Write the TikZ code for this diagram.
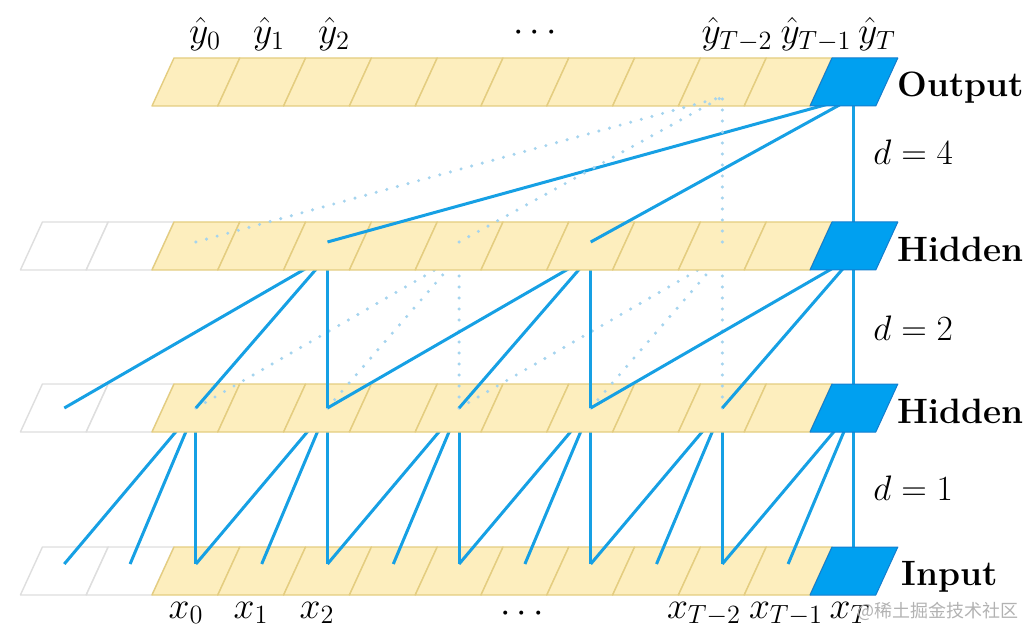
\documentclass[tikz,border=0pt]{standalone}
\usepackage{fix-cm}
\usepackage{fontspec}
\newfontfamily\cjkwm{Noto Sans CJK SC}
\definecolor{cellfill}{RGB}{253,238,190}
\definecolor{cellborder}{RGB}{228,205,128}
\definecolor{bluefill}{RGB}{0,160,240}
\definecolor{blueborder}{RGB}{20,125,205}
\definecolor{conncol}{RGB}{22,160,228}
\definecolor{dotcol}{RGB}{165,212,238}
\definecolor{whiteborder}{RGB}{222,222,222}
\tikzset{
  cellY/.style={fill=cellfill, draw=cellborder, line width=0.7pt, line join=round},
  cellW/.style={fill=white, draw=whiteborder, line width=0.7pt, line join=round},
  cellB/.style={fill=bluefill, draw=blueborder, line width=0.5pt, line join=round},
  conn/.style={draw=conncol, line width=1.5pt},
  ghost/.style={draw=dotcol, line width=1.7pt, line cap=round, dash pattern=on 0pt off 5.5pt},
  lab/.style={font=\fontsize{18.8}{22}\selectfont, inner sep=0pt, anchor=base},
  layer/.style={font=\fontsize{17.6}{21}\selectfont\bfseries, inner sep=0pt, anchor=base west},
  dlab/.style={font=\fontsize{17.7}{21}\selectfont, inner sep=0pt, anchor=base west},
}
% one row of cells: #1 = top y, #2 = first index (the blue cell 10 is drawn last)
\newcommand\cellrow[2]{%
  \foreach \i in {#2,...,9}{%
    \ifnum\i<0
      \path[cellW] ({152+65.8*\i},{#1+48}) -- ({152+65.8*(\i+1)},{#1+48}) -- ({174+65.8*(\i+1)},#1) -- ({174+65.8*\i},#1) -- cycle;
    \else
      \path[cellY] ({152+65.8*\i},{#1+48}) -- ({152+65.8*(\i+1)},{#1+48}) -- ({174+65.8*(\i+1)},#1) -- ({174+65.8*\i},#1) -- cycle;
    \fi
  }%
}
\newcommand\bluecell[1]{%
  \path[cellB] ({152+65.8*10},{#1+48}) -- ({152+65.8*11},{#1+48}) -- ({174+65.8*11},#1) -- ({174+65.8*10},#1) -- cycle;
}
\begin{document}
\begin{tikzpicture}[x=0.5pt,y=-0.5pt]
\useasboundingbox (0,0) rectangle (1036,641);
% node points
\foreach \i in {-2,...,10}{
  \coordinate (in-\i) at ({195.9+65.8*\i},564);
  \coordinate (ha-\i) at ({195.9+65.8*\i},408);
  \coordinate (hb-\i) at ({195.9+65.8*\i},242);
  \coordinate (hbt-\i) at ({195.9+65.8*\i},256);
  \coordinate (out-\i) at ({195.9+65.8*\i},97);
}
% input row
\cellrow{547}{-2}
% d = 1 connections
\foreach \j in {0,2,4,6,8,10}{
  \pgfmathtruncatemacro\ja{\j-2}
  \pgfmathtruncatemacro\jb{\j-1}
  \draw[conn] (in-\ja) -- (ha-\j);
  \draw[conn] (in-\jb) -- (ha-\j);
  \draw[conn] (in-\j) -- (ha-\j);
}
% lower hidden row
\cellrow{384}{-2}
% d = 2 connections
\foreach \j in {4,8}{
  \pgfmathtruncatemacro\ja{\j-4}
  \pgfmathtruncatemacro\jb{\j-2}
  \draw[ghost] (ha-\ja) -- (hbt-\j);
  \draw[ghost] (ha-\jb) -- (hbt-\j);
  \draw[ghost] (ha-\j) -- (hbt-\j);
}
\foreach \j in {2,6,10}{
  \pgfmathtruncatemacro\ja{\j-4}
  \pgfmathtruncatemacro\jb{\j-2}
  \draw[conn] (ha-\ja) -- (hbt-\j);
  \draw[conn] (ha-\jb) -- (hbt-\j);
  \draw[conn] (ha-\j) -- (hbt-\j);
}
% upper hidden row
\cellrow{222}{-2}
% d = 4 connections
\draw[conn] (hb-2) -- (out-10);
\draw[conn] (hb-6) -- (out-10);
\draw[conn] (hb-10) -- (out-10);
% output row
\cellrow{58}{0}
\draw[ghost] (hb-0) -- (out-8);
\draw[ghost] (hb-4) -- (out-8);
\draw[ghost] (hb-8) -- (out-8);
% blue cells on top
\bluecell{547}
\bluecell{384}
\bluecell{222}
\bluecell{58}
% top labels
\node[lab] (ly0) at (205,44) {$\hat{y}_0$};
\node[lab] (ly1) at (269,44) {$\hat{y}_1$};
\node[lab] (ly2) at (334,44) {$\hat{y}_2$};
\node[lab] (ldt) at (535,42) {$\cdots$};
\node[lab] (lyT2) at (737,44) {$\hat{y}_{T-2}$};
\node[lab] (lyT1) at (816,44) {$\hat{y}_{T-1}$};
\node[lab] (lyT) at (877,44) {$\hat{y}_T$};
% bottom labels
\node[lab] (lx0) at (186,618) {$x_0$};
\node[lab] (lx1) at (251,618) {$x_1$};
\node[lab] (lx2) at (317,618) {$x_2$};
\node[lab] (ldb) at (522,622) {$\cdots$};
\node[lab] (lxT2) at (704,618) {$x_{T-2}$};
\node[lab] (lxT1) at (786,618) {$x_{T-1}$};
\node[lab] (lxT) at (850,618) {$x_T$};
% layer names
\node[layer] (nout) at (897,97) {Output};
\node[layer] (nh2) at (897,262) {Hidden};
\node[layer] (nh1) at (897,423) {Hidden};
\node[layer] (nin) at (901,585) {Input};
% dilations
\node[dlab] (d4) at (873,165) {$d=4$};
\node[dlab] (d2) at (873,340) {$d=2$};
\node[dlab] (d1) at (873,500) {$d=1$};
% watermark
\node[inner sep=0pt, anchor=base west, text=black!30, font=\cjkwm\fontsize{9}{10}\selectfont] (wm) at (857,617) {@稀土掘金技术社区};
\end{tikzpicture}
\end{document}
